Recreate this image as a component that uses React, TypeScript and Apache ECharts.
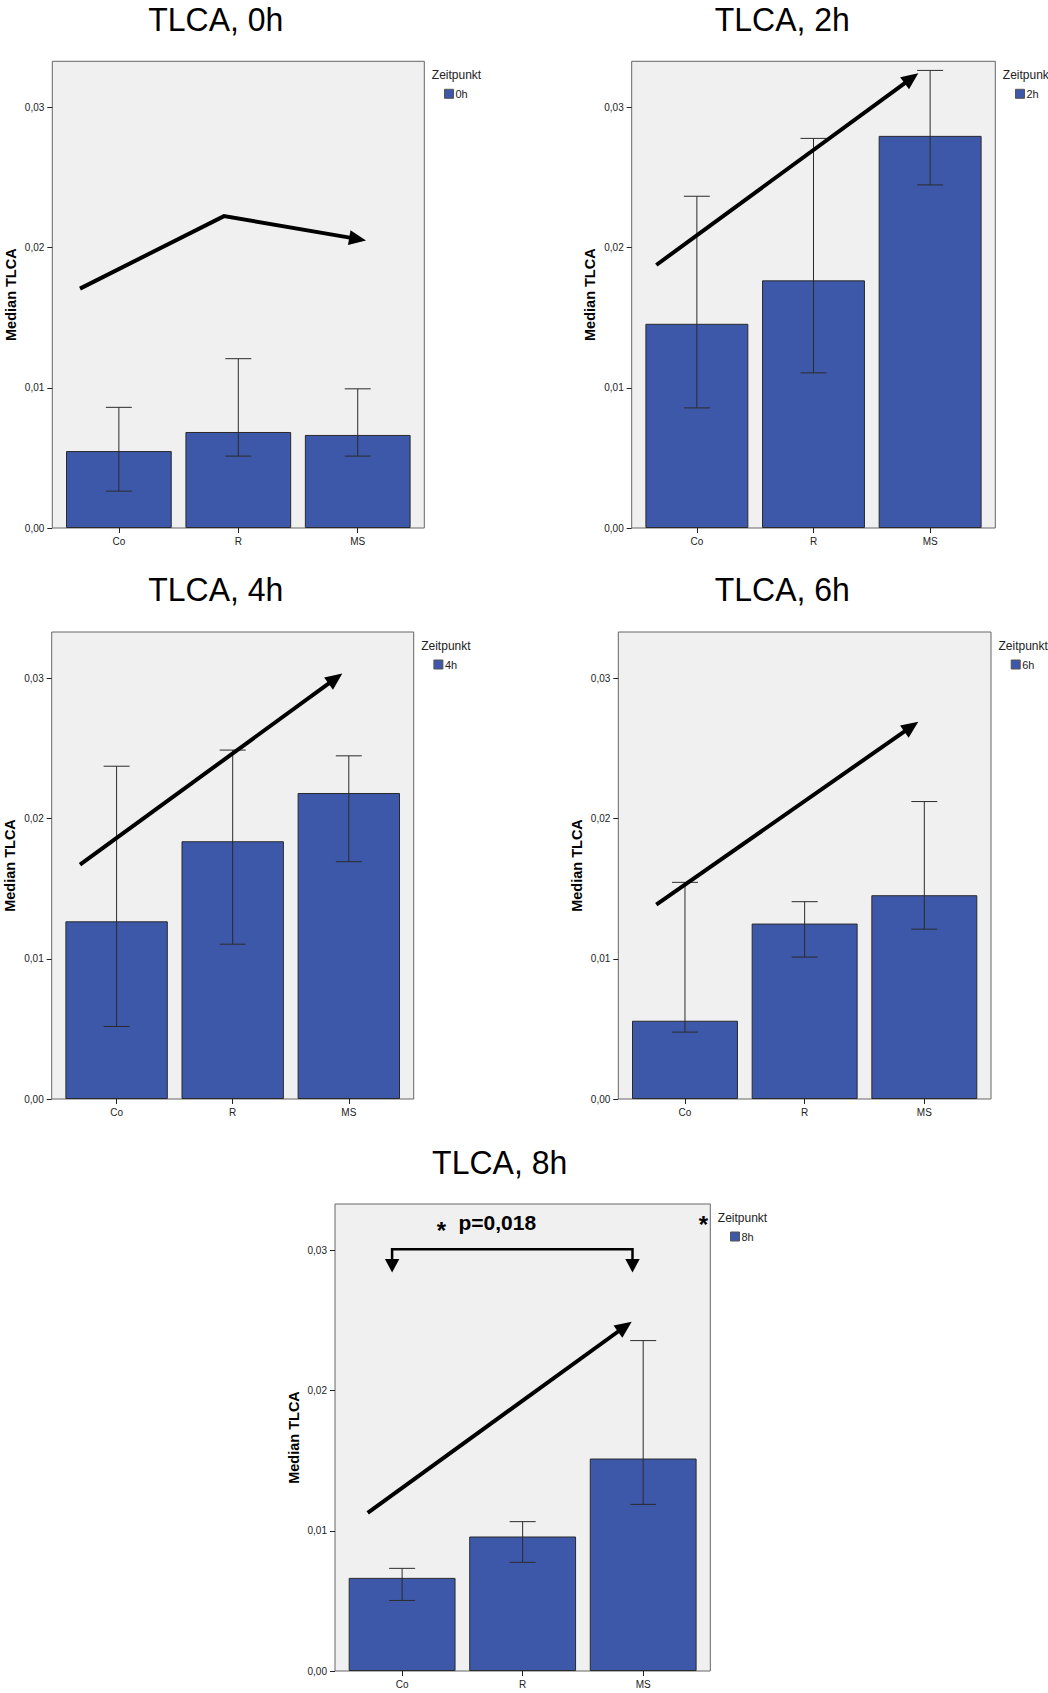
import React, { useEffect, useRef } from "react";
import * as echarts from "echarts";

// ---------- data ----------
const categories = ["Co", "R", "MS"];
const timepoints = ["0h", "2h", "4h", "6h", "8h"];
const chartTitles = ["TLCA, 0h", "TLCA, 2h", "TLCA, 4h", "TLCA, 6h", "TLCA, 8h"];
const yAxisTitle = "Median TLCA";
const legendTitle = "Zeitpunkt";
const pValueLabel = "p=0,018";
const yTicks = [0, 0.01, 0.02, 0.03];
const yMax = 0.0333;

const median0h = [0.00549, 0.00685, 0.00664];
const lower0h = [0.00263, 0.00513, 0.00513];
const upper0h = [0.00861, 0.01208, 0.00993];

const median2h = [0.01457, 0.01767, 0.02798];
const lower2h = [0.00857, 0.01107, 0.02448];
const upper2h = [0.02367, 0.0278, 0.03265];

const median4h = [0.01267, 0.01838, 0.02182];
const lower4h = [0.00517, 0.01104, 0.01692];
const upper4h = [0.02373, 0.02488, 0.02447];

const median6h = [0.00558, 0.01251, 0.01453];
const lower6h = [0.00477, 0.01012, 0.01211];
const upper6h = [0.01545, 0.01407, 0.02121];

const median8h = [0.00664, 0.00959, 0.01515];
const lower8h = [0.00503, 0.00775, 0.01188];
const upper8h = [0.00732, 0.01065, 0.02356];

const medians = [median0h, median2h, median4h, median6h, median8h];
const lowers = [lower0h, lower2h, lower4h, lower6h, lower8h];
const uppers = [upper0h, upper2h, upper4h, upper6h, upper8h];

// ---------- layout (pixels) ----------
const frames = [
  { l: 52.3, r: 424.3, t: 61.3, b: 528, tx: 215.8, ty: 19.9 },
  { l: 631.7, r: 995.3, t: 61.3, b: 528, tx: 782.3, ty: 19.9 },
  { l: 51.7, r: 413.7, t: 632, b: 1099, tx: 215.8, ty: 589.9 },
  { l: 618.3, r: 991, t: 632, b: 1099, tx: 782.3, ty: 589.9 },
  { l: 335, r: 710.3, t: 1204, b: 1671, tx: 499.7, ty: 1163 },
];
// trend arrows (annotation overlay, pixel space)
const arrowPaths = [
  [[80, 288.6], [224, 216.1], [366, 240.4]],
  [[656.3, 265], [918.3, 73.2]],
  [[80, 864.6], [342.3, 673.6]],
  [[656.3, 904.6], [918.3, 721.8]],
  [[367.7, 1512.8], [631.7, 1321.7]],
];

const FONT = "'Liberation Sans', Arial, Helvetica, sans-serif";
const GAP = 13.7;
const BAR_COLOR = "#3D58A9";

function arrowEls(points: number[][], width = 4, headLen = 17, headHalf = 7.5) {
  const n = points.length;
  const tip = points[n - 1];
  const prev = points[n - 2];
  const dx = tip[0] - prev[0];
  const dy = tip[1] - prev[1];
  const len = Math.hypot(dx, dy);
  const ux = dx / len;
  const uy = dy / len;
  const bx = tip[0] - ux * headLen;
  const by = tip[1] - uy * headLen;
  const linePts = points.slice(0, n - 1).concat([[bx + ux * 2, by + uy * 2]]);
  return [
    {
      type: "polyline",
      shape: { points: linePts },
      style: { stroke: "#000", lineWidth: width, fill: "none", lineJoin: "miter", lineCap: "butt" },
      z: 100,
    },
    {
      type: "polygon",
      shape: {
        points: [
          tip,
          [bx - uy * headHalf, by + ux * headHalf],
          [bx + uy * headHalf, by - ux * headHalf],
        ],
      },
      style: { fill: "#000" },
      z: 100,
    },
  ];
}

function buildOption() {
  const grid: any[] = [];
  const xAxis: any[] = [];
  const yAxis: any[] = [];
  const series: any[] = [];
  const legend: any[] = [];
  const graphic: any[] = [];

  frames.forEach((f, i) => {
    const W = f.r - f.l;
    const H = f.b - f.t;
    const barW = (W - 4 * GAP) / 3;
    const fi = i * 2; // frame grid index
    const di = i * 2 + 1; // data grid index

    grid.push({
      left: f.l,
      top: f.t,
      width: W,
      height: H,
      show: true,
      backgroundColor: "#F0F0F0",
      borderColor: "#666",
      borderWidth: 1,
      containLabel: false,
      outerBoundsMode: "none",
      z: 0,
    });
    grid.push({
      left: f.l + GAP / 2,
      top: f.t,
      width: W - GAP,
      height: H,
      show: false,
      containLabel: false,
      outerBoundsMode: "none",
    });

    xAxis.push({ gridIndex: fi, type: "value", show: false, min: 0, max: 1 });
    yAxis.push({ gridIndex: fi, type: "value", show: false, min: 0, max: 1 });

    xAxis.push({
      gridIndex: di,
      type: "category",
      data: categories,
      axisLine: { show: false },
      axisTick: { show: true, alignWithLabel: true, length: 5, lineStyle: { color: "#222", width: 1 } },
      axisLabel: { fontSize: 10, fontFamily: FONT, color: "#222", margin: 8 },
      splitLine: { show: false },
    });
    yAxis.push({
      gridIndex: di,
      type: "value",
      min: 0,
      max: yMax,
      interval: 0.01,
      offset: GAP / 2,
      name: yAxisTitle,
      nameLocation: "middle",
      nameGap: 34,
      nameMoveOverlap: false,
      nameTextStyle: { fontSize: 14.5, fontWeight: "bold", fontFamily: FONT, color: "#000" },
      axisLine: { show: false },
      axisTick: { show: true, length: 5, customValues: yTicks, lineStyle: { color: "#222", width: 1 } },
      axisLabel: {
        fontSize: 10,
        fontFamily: FONT,
        color: "#222",
        margin: 8,
        customValues: yTicks,
        formatter: (v: number) => v.toFixed(2).replace(".", ","),
      },
      splitLine: { show: false },
    });

    series.push({
      name: timepoints[i],
      type: "bar",
      xAxisIndex: di,
      yAxisIndex: di,
      barWidth: barW,
      data: medians[i],
      itemStyle: { color: BAR_COLOR, borderColor: "#2a2a2a", borderWidth: 1 },
      z: 2,
    });
    series.push({
      name: "err" + timepoints[i],
      type: "custom",
      xAxisIndex: di,
      yAxisIndex: di,
      z: 3,
      data: categories.map((_, k) => [k, lowers[i][k], uppers[i][k]]),
      encode: { x: 0, y: [1, 2] },
      renderItem: (params: any, api: any) => {
        const lo = api.coord([api.value(0), api.value(1)]);
        const hi = api.coord([api.value(0), api.value(2)]);
        const half = 13;
        const st = { stroke: "#2b2b2b", lineWidth: 1 };
        return {
          type: "group",
          children: [
            { type: "line", shape: { x1: lo[0], y1: lo[1], x2: hi[0], y2: hi[1] }, style: st },
            { type: "line", shape: { x1: lo[0] - half, y1: lo[1], x2: lo[0] + half, y2: lo[1] }, style: st },
            { type: "line", shape: { x1: hi[0] - half, y1: hi[1], x2: hi[0] + half, y2: hi[1] }, style: st },
          ],
        };
      },
    });

    legend.push({
      data: [timepoints[i]],
      left: f.r + 19.7,
      top: f.t + 27,
      orient: "vertical",
      padding: 0,
      itemWidth: 9,
      itemHeight: 9,
      itemGap: 0,
      icon: "rect",
      selectedMode: false,
      textStyle: { fontSize: 11, fontFamily: FONT, color: "#222", padding: [0, 0, 0, -3] },
      itemStyle: { borderColor: "#555", borderWidth: 1 },
    });

    // chart title
    graphic.push({
      type: "text",
      x: f.tx,
      y: f.ty,
      scaleX: 0.97,
      style: {
        text: chartTitles[i],
        fontSize: 33,
        fontFamily: FONT,
        fill: "#000",
        align: "center",
        verticalAlign: "middle",
      },
      z: 100,
    });
    // legend title
    graphic.push({
      type: "text",
      x: f.r + 7.5,
      y: f.t + 13.9,
      style: {
        text: legendTitle,
        fontSize: 12,
        fontFamily: FONT,
        fill: "#222",
        align: "left",
        verticalAlign: "middle",
      },
      z: 100,
    });

    graphic.push(...arrowEls(arrowPaths[i]));
  });

  // significance bracket (8h panel)
  const bL = 392.1;
  const bR = 632.5;
  const bY = 1249.3;
  graphic.push({
    type: "polyline",
    shape: { points: [[bL, 1260], [bL, bY], [bR, bY], [bR, 1260]] },
    style: { stroke: "#000", lineWidth: 2.5, fill: "none", lineJoin: "miter" },
    z: 100,
  });
  [bL, bR].forEach((x) => {
    graphic.push({
      type: "polygon",
      shape: { points: [[x - 7.2, 1259], [x + 7.2, 1259], [x, 1272.5]] },
      style: { fill: "#000" },
      z: 100,
    });
  });
  graphic.push({
    type: "text",
    x: 458.5,
    y: 1222,
    style: { text: pValueLabel, fontSize: 21, fontWeight: "bold", fontFamily: FONT, fill: "#000", align: "left", verticalAlign: "middle" },
    z: 100,
  });
  graphic.push({
    type: "text",
    x: 441.3,
    y: 1230.5,
    style: { text: "*", fontSize: 24, fontWeight: "bold", fontFamily: FONT, fill: "#000", align: "center", verticalAlign: "middle" },
    z: 100,
  });
  graphic.push({
    type: "text",
    x: 703.3,
    y: 1224.5,
    style: { text: "*", fontSize: 24, fontWeight: "bold", fontFamily: FONT, fill: "#000", align: "center", verticalAlign: "middle" },
    z: 100,
  });

  return {
    animation: false,
    backgroundColor: "#FFFFFF",
    textStyle: { fontFamily: FONT },
    grid,
    xAxis,
    yAxis,
    legend,
    series,
    graphic,
  };
}

export default function App() {
  const ref = useRef<HTMLDivElement | null>(null);
  useEffect(() => {
    if (!ref.current) return;
    const chart = echarts.init(ref.current, null, { renderer: "svg" });
    chart.setOption(buildOption() as any);
    return () => {
      chart.dispose();
    };
  }, []);
  return (
    <div
      ref={ref}
      style={{ position: "absolute", left: 0, top: 0, width: 1048, height: 1693, background: "#fff" }}
    />
  );
}
